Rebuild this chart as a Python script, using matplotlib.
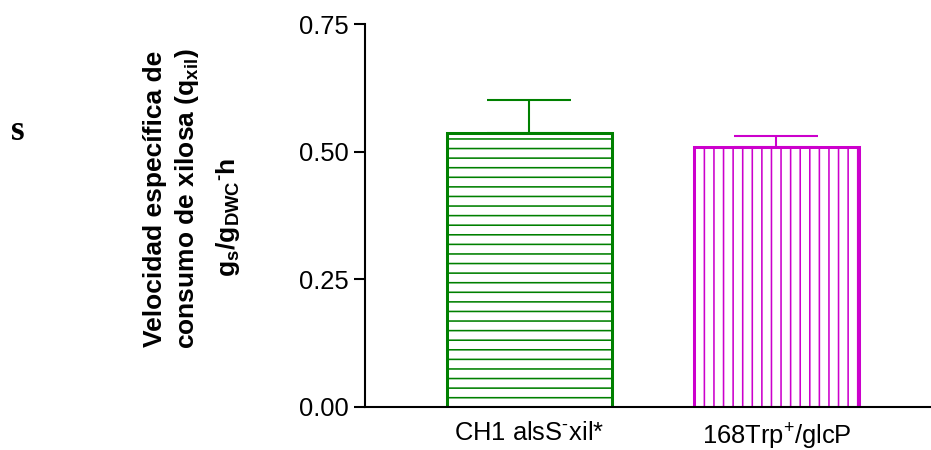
import matplotlib
matplotlib.use("Agg")
import matplotlib.pyplot as plt

# Data
strains = ["CH1 alsS$^{‐}$xil*", "168Trp$^{+}$/glcP"]
q_xil = [0.536, 0.510]
q_xil_err = [0.065, 0.020]
bar_colors = ["#008000", "#CC00CC"]
bar_hatches = ["--", "||"]
y_ticks = [0.00, 0.25, 0.50, 0.75]

DPI = 115
plt.rcParams["font.family"] = ["Liberation Sans", "DejaVu Sans"]
plt.rcParams["mathtext.fontset"] = "custom"
plt.rcParams["mathtext.rm"] = "Liberation Sans"
plt.rcParams["mathtext.it"] = "Liberation Sans"
plt.rcParams["mathtext.bf"] = "Liberation Sans:bold"
plt.rcParams["mathtext.default"] = "regular"
plt.rcParams["hatch.linewidth"] = 1.0

fig = plt.figure(figsize=(932 / DPI, 450 / DPI), dpi=DPI)
ax = fig.add_axes([365 / 932, 1 - 407 / 450, 1 - 365 / 932, (407 - 24) / 450])

x = list(range(len(strains)))
for xi, val, err, col, h in zip(x, q_xil, q_xil_err, bar_colors, bar_hatches):
    ax.bar(xi, val, width=0.668, facecolor="white", edgecolor=col,
           hatch=h, linewidth=1.9, zorder=2)
    ax.errorbar(xi, val, yerr=[[0], [err]], fmt="none", ecolor=col,
                elinewidth=1.3, capsize=26, capthick=1.3, zorder=1)

ax.set_xlim(-0.666, 1.63)
ax.set_ylim(0, 0.75)
ax.set_yticks(y_ticks)
ax.set_yticklabels([f"{t:.2f}" for t in y_ticks])
ax.set_xticks(x)
ax.set_xticklabels(strains)

for side in ("top", "right"):
    ax.spines[side].set_visible(False)
for side in ("left", "bottom"):
    ax.spines[side].set_linewidth(1.3)

ax.tick_params(axis="y", length=7, width=1.3, pad=3, labelsize=16)
ax.tick_params(axis="x", length=0, pad=9, labelsize=16)

# Axis title in three rotated lines
title_size = 16.5
fig.text(155 / 932, 1 - 199 / 450, "Velocidad específica de", rotation=90,
         ha="center", va="center", fontsize=title_size, fontweight="bold")
fig.text(187 / 932, 1 - 199 / 450, "consumo de xilosa (q$_{xil}$)", rotation=90,
         ha="center", va="center", fontsize=title_size, fontweight="bold")
fig.text(228 / 932, 1 - 217 / 450, "g$_{s}$/g$_{DWC}$$^{‐}$h", rotation=90,
         ha="center", va="center", fontsize=title_size, fontweight="bold")

fig.text(18 / 932, 1 - 132 / 450, "s", ha="center", va="center",
         fontsize=22, fontweight="bold", family="Liberation Serif")

fig.savefig("out.png", dpi=DPI)
